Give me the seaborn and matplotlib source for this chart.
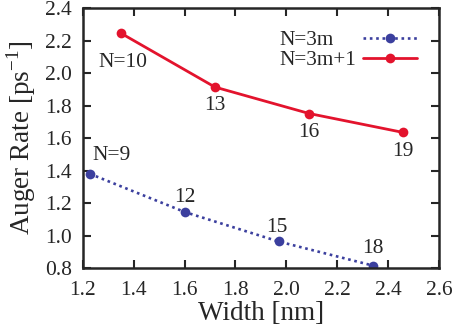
import seaborn as sns
import matplotlib.pyplot as plt
import pandas as pd

width_3m = [1.228, 1.601, 1.969, 2.339]
rate_3m = [1.38, 1.145, 0.964, 0.816]
labels_3m = ['N=9', '12', '15', '18']

width_3m1 = [1.349, 1.719, 2.090, 2.458]
rate_3m1 = [2.246, 1.914, 1.751, 1.635]
labels_3m1 = ['N=10', '13', '16', '19']

# label positions (data coords)
lab_pos_3m = [(1.314, 1.493), (1.601, 1.236), (1.963, 1.051), (2.34, 0.919)]
lab_pos_3m1 = [(1.357, 2.066), (1.719, 1.80), (2.09, 1.636), (2.458, 1.518)]

sns.set_style('ticks')
plt.rcParams['font.family'] = ['Liberation Serif', 'DejaVu Serif']
plt.rcParams['mathtext.fontset'] = 'custom'
plt.rcParams['mathtext.rm'] = 'Liberation Serif'

blue = '#3b3f9e'
red = '#e3132d'

df_a = pd.DataFrame({'w': width_3m, 'r': rate_3m})
df_b = pd.DataFrame({'w': width_3m1, 'r': rate_3m1})

fig = plt.figure(figsize=(4.55, 3.36), dpi=100)
ax = fig.add_axes([0.182, 0.202, 0.783, 0.774])

sns.lineplot(x='w', y='r', data=df_a, color=blue, linestyle=(0, (1, 1.4)), linewidth=1.9,
             marker='o', markersize=7, markeredgewidth=0, label='N=3m', ax=ax)
sns.lineplot(x='w', y='r', data=df_b, color=red, linestyle='-', linewidth=2,
             marker='o', markersize=7, markeredgewidth=0, label='N=3m+1', ax=ax)

for t, (x, y) in zip(labels_3m, lab_pos_3m):
    ax.text(x, y, t, ha='center', va='center', fontsize=15.5)
for t, (x, y) in zip(labels_3m1, lab_pos_3m1):
    ax.text(x, y, t, ha='center', va='center', fontsize=15.5)

ax.set_xlim(1.2, 2.6)
ax.set_ylim(0.8, 2.4)
ax.set_xticks([1.2, 1.4, 1.6, 1.8, 2.0, 2.2, 2.4, 2.6])
ax.set_yticks([0.8, 1.0, 1.2, 1.4, 1.6, 1.8, 2.0, 2.2, 2.4])
ax.set_xticklabels(['1.2', '1.4', '1.6', '1.8', '2.0', '2.2', '2.4', '2.6'])
ax.set_yticklabels(['0.8', '1.0', '1.2', '1.4', '1.6', '1.8', '2.0', '2.2', '2.4'])
ax.tick_params(direction='in', length=6, width=1.5, labelsize=15.5, top=True, right=True)
ax.tick_params(axis='x', pad=9)
ax.tick_params(axis='y', pad=8)
for s in ax.spines.values():
    s.set_linewidth(1.8)

ax.set_xlabel('Width [nm]', fontsize=19.5, labelpad=1)
ax.set_ylabel('Auger Rate [ps$^{\\mathregular{-1}}$]', fontsize=19.5, labelpad=5)

leg_fs = 15.3
leg = ax.legend(loc='upper right', frameon=False, fontsize=leg_fs, markerfirst=False,
                handlelength=2.55, borderaxespad=0.85, labelspacing=0.0, handletextpad=0.3,
                borderpad=0.2)

# left-align the legend texts (text sits left of the handle)
fig.canvas.draw()
r = fig.canvas.get_renderer()
tw = [t.get_window_extent(r).width for t in leg.get_texts()]
items = leg._legend_handle_box.get_children()[0].get_children()
for it, w in zip(items, tw):
    it.sep += (max(tw) - w) * 72 / fig.dpi

plt.savefig('out.png', dpi=100)
